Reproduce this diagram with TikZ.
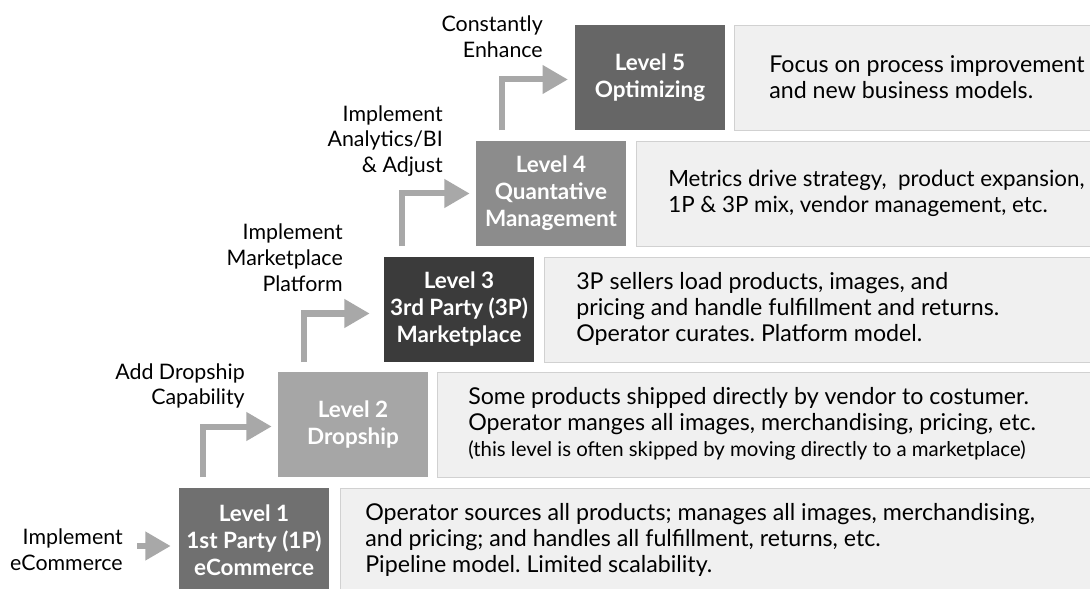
\documentclass[tikz,border=0pt]{standalone}
\usepackage{fontspec}
\setmainfont{Lato}
\usetikzlibrary{arrows.meta}
\colorlet{lvone}{black!56}
\colorlet{lvtwo}{black!35}
\colorlet{lvthree}{black!77}
\colorlet{lvfour}{black!45}
\colorlet{lvfive}{black!60}
\colorlet{arrowgray}{black!34}
\colorlet{descgray}{black!6}
\frenchspacing

\begin{document}
\begin{tikzpicture}[
    x=0.025cm,
    y=-0.025cm,
    levelbox/.style={
        text=white,
        font=\fontsize{16}{19.2}\selectfont\bfseries,
        align=center,
        minimum width=3.75cm,
        minimum height=2.62cm,
        inner sep=0pt
    },
    descbox/.style={
        fill=descgray,
        draw=black!18,
        line width=0.6pt,
        anchor=north west,
        minimum height=2.62cm,
        inner sep=0pt
    },
    note/.style={
        anchor=west,
        align=left,
        inner sep=0pt,
        font=\fontsize{16.5}{18.6}\selectfont
    },
    steplabel/.style={
        anchor=east,
        align=right,
        inner sep=0pt,
        font=\fontsize{15.2}{18.4}\selectfont
    },
    steparrow/.style={
        arrowgray,
        line width=0.15cm,
        -{Triangle[length=0.63cm,width=0.68cm]}
    }
]
    \useasboundingbox (0,0) rectangle (1090,589);
    \fill[white] (0,0) rectangle (1090,589);

    \node[descbox,minimum width=18.9cm] (desc1) at (340,488) {};
    \node[descbox,minimum width=16.45cm] (desc2) at (437,372) {};
    \node[descbox,minimum width=13.8cm] (desc3) at (544,257) {};
    \node[descbox,minimum width=11.5cm] (desc4) at (636,141) {};
    \node[descbox,minimum width=9.05cm] (desc5) at (734,25) {};

    \node[levelbox,fill=lvone] (level1) at (254,540.5) {Level 1\\1st Party (1P)\\eCommerce};
    \node[levelbox,fill=lvtwo] (level2) at (353,424.5) {Level 2\\Dropship};
    \node[levelbox,fill=lvthree] (level3) at (459,309.5) {Level 3\\3rd Party (3P)\\Marketplace};
    \node[levelbox,fill=lvfour] (level4) at (551,193.5) {Level 4\\Quantative\\Management};
    \node[levelbox,fill=lvfive] (level5) at (650,77.5) {Level 5\\Optimizing};

    \node[note] (note1) at (365,540) {Operator sources all products; manages all images, merchandising,\\and pricing; and handles all fulfillment, returns, etc.\\Pipeline model. Limited scalability.};
    \node[note] (note2) at (468,424) {Some products shipped directly by vendor to costumer.\\Operator manges all images, merchandising, pricing, etc.\\{\fontsize{14.5}{18}\selectfont(this level is often skipped by moving directly to a marketplace)}};
    \node[note] (note3) at (576,309) {3P sellers load products, images, and\\pricing and handle fulfillment and returns.\\Operator curates. Platform model.};
    \node[note,font=\fontsize{15.9}{18.6}\selectfont] (note4) at (668,193) {Metrics drive strategy,\ \ product expansion,\\1P \& 3P mix, vendor management, etc.};
    \node[note] (note5) at (769,77.5) {Focus on process improvement\\and new business models.};

    \node[steplabel] (label1) at (123,550) {Implement\\eCommerce};
    \node[steplabel] (label2) at (245,386) {Add Dropship\\Capability};
    \node[steplabel] (label3) at (343,257.5) {Implement\\Marketplace\\Platform};
    \node[steplabel] (label4) at (443,141) {Implement\\Analytics/BI\\\& Adjust};
    \node[steplabel] (label5) at (543,36.5) {Constantly\\Enhance};

    \draw[steparrow] ([xshift=0.35cm]label1.east |- 0,546) -- ([xshift=-0.2cm]level1.west |- 0,546);
    \draw[steparrow] ([xshift=0.6cm]level1.north west |- level2.south) |- ([xshift=-0.15cm,yshift=-0.05cm]level2.west);
    \draw[steparrow] ([xshift=0.65cm]level2.north west |- level3.south) |- ([xshift=-0.35cm,yshift=-0.1cm]level3.west);
    \draw[steparrow] ([xshift=0.45cm]level3.north west |- level4.south) |- ([xshift=-0.15cm]level4.west);
    \draw[steparrow] ([xshift=0.65cm]level4.north west |- level5.south) |- ([xshift=-0.17cm,yshift=-0.05cm]level5.west);
\end{tikzpicture}
\end{document}
